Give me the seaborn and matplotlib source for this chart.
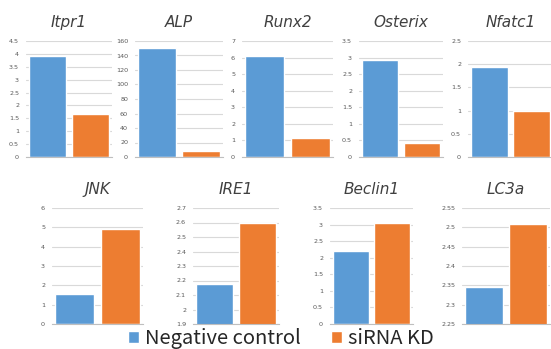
import numpy as np
import pandas as pd
import matplotlib
matplotlib.use('Agg')
import matplotlib.pyplot as plt
import seaborn as sns
from matplotlib.ticker import FuncFormatter

# values
genes = ['Itpr1', 'ALP', 'Runx2', 'Osterix', 'Nfatc1', 'JNK', 'IRE1', 'Beclin1', 'LC3a']
control = [3.92, 151, 6.1, 2.94, 1.95, 1.57, 2.178, 2.19, 2.345]
sirna = [1.65, 8, 1.15, 0.43, 1.0, 4.9, 2.595, 3.06, 2.508]
groups = ['Negative control', 'siRNA KD']

# axis ranges (min, max, step) per panel
y_min = [0, 0, 0, 0, 0, 0, 1.9, 0, 2.25]
y_max = [4.5, 160, 7, 3.5, 2.5, 6, 2.7, 3.5, 2.55]
y_step = [0.5, 20, 1, 0.5, 0.5, 1, 0.1, 0.5, 0.05]

palette = {'Negative control': '#5B9BD5', 'siRNA KD': '#ED7D31'}

W, H = 551, 349
# panel boxes in pixels: left, right, top, bottom
boxes = [
    (26, 112, 41, 157), (135, 223, 41, 157), (242, 333, 41, 157),
    (359, 443, 41, 157), (468, 553, 41, 157),
    (52, 143, 208, 324), (193, 279, 208, 324), (330, 413, 208, 324),
    (462, 550, 208, 324),
]

sns.set_style('white')
fig = plt.figure(figsize=(W / 100, H / 100), dpi=100)

handles = None
for i, gene in enumerate(genes):
    l, r, t, b = boxes[i]
    ax = fig.add_axes([l / W, 1 - b / H, (r - l) / W, (b - t) / H])
    df = pd.DataFrame({'group': groups, 'value': [control[i], sirna[i]]})
    sns.barplot(data=df, x='group', y='value', hue='group', palette=palette,
                width=0.86, ax=ax, legend=(i == 0), saturation=1)
    if i == 0:
        handles, labels = ax.get_legend_handles_labels()
        ax.get_legend().remove()
    ax.set_xlim(-0.5, 1.5)
    ax.set_ylim(y_min[i], y_max[i])
    ax.set_yticks(np.round(np.arange(y_min[i], y_max[i] + y_step[i] / 2, y_step[i]), 3))
    ax.yaxis.set_major_formatter(FuncFormatter(lambda v, p: f'{v:g}'))
    ax.set_xticks([])
    ax.set_xlabel('')
    ax.set_ylabel('')
    ax.grid(axis='y', color='#D9D9D9', linewidth=0.8)
    ax.set_axisbelow(True)
    for s in ['left', 'right', 'top']:
        ax.spines[s].set_visible(False)
    ax.spines['bottom'].set_color('#BFBFBF')
    ax.spines['bottom'].set_linewidth(0.8)
    ax.tick_params(axis='y', length=0, labelsize=4.6, labelcolor='#595959', pad=5)
    ax.set_title(gene, fontsize=11, style='italic', color='#404040', pad=10)

fig.legend(handles, groups, loc='center', bbox_to_anchor=(0.51, 0.03),
           ncol=2, frameon=False, handlelength=0.55, handleheight=0.55,
           handletextpad=0.3, columnspacing=1.5, borderpad=0.0,
           prop={'family': ['Noto Sans CJK JP', 'DejaVu Sans'], 'size': 14.5})

fig.savefig('out.png', dpi=100)
